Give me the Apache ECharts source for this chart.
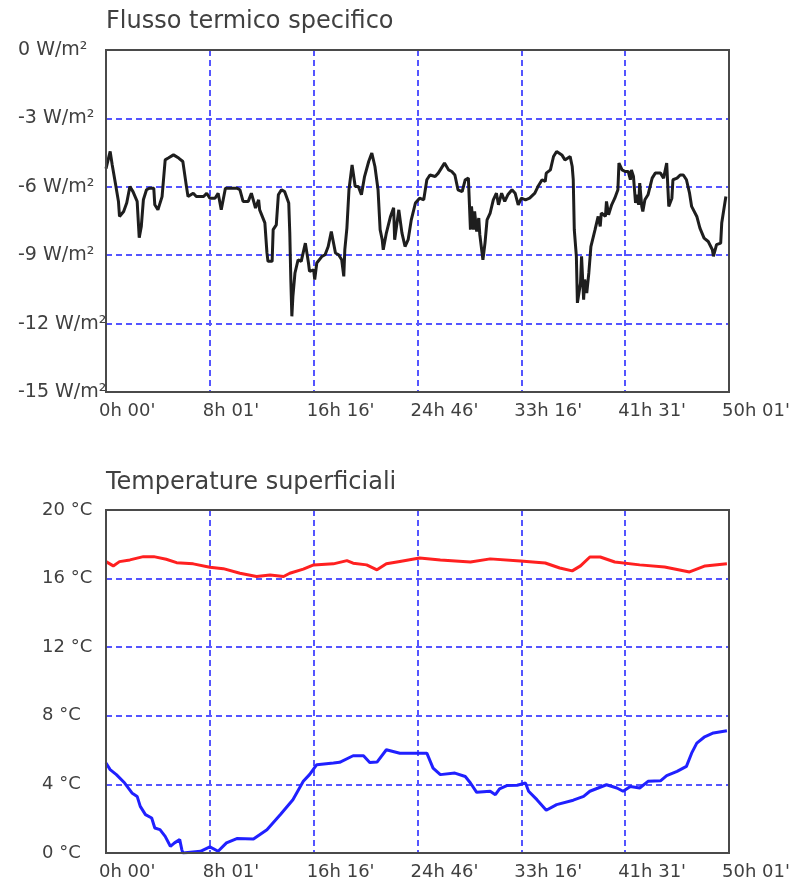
<!DOCTYPE html>
<html>
<head>
<meta charset="utf-8">
<script src="https://cdn.jsdelivr.net/npm/echarts@6/dist/echarts.min.js"></script>
<style>
  html, body { margin: 0; padding: 0; background: #ffffff; }
  #chart { width: 799px; height: 882px; }
</style>
</head>
<body>
<div id="chart"></div>
<script>
// Time axis: six equal divisions, labelled with elapsed time
const timeLabels = ["0h 00'", "8h 01'", "16h 16'", "24h 46'", "33h 16'", "41h 31'", "50h 01'"];

// Specific heat flux (W/m²), position in time divisions
const fluxPos = [0.00,0.04,0.06,0.09,0.12,0.13,0.17,0.20,0.23,0.26,0.30,0.32,0.34,0.36,0.39,0.42,0.46,0.47,0.50,0.54,
  0.57,0.60,0.65,0.70,0.74,0.77,0.79,0.84,0.87,0.94,0.97,1.00,1.05,1.08,1.11,1.15,1.19,1.26,1.29,1.32,
  1.37,1.40,1.44,1.47,1.48,1.53,1.55,1.56,1.60,1.61,1.64,1.66,1.69,1.72,1.76,1.77,1.78,1.79,1.80,1.82,
  1.85,1.88,1.92,1.95,1.96,2.00,2.01,2.03,2.08,2.11,2.14,2.17,2.21,2.24,2.27,2.29,2.30,2.32,2.34,2.37,
  2.40,2.43,2.46,2.49,2.53,2.56,2.59,2.62,2.64,2.66,2.67,2.70,2.74,2.77,2.78,2.82,2.85,2.88,2.91,2.94,
  2.98,3.02,3.06,3.09,3.12,3.17,3.20,3.23,3.26,3.30,3.33,3.36,3.39,3.43,3.46,3.49,3.51,3.52,3.54,3.55,
  3.57,3.59,3.60,3.63,3.65,3.67,3.70,3.73,3.76,3.78,3.81,3.84,3.87,3.91,3.94,3.97,4.00,4.04,4.08,4.13,
  4.16,4.20,4.23,4.24,4.28,4.31,4.34,4.39,4.42,4.47,4.49,4.50,4.51,4.53,4.54,4.57,4.58,4.60,4.61,4.63,
  4.65,4.67,4.71,4.74,4.76,4.77,4.81,4.82,4.84,4.87,4.90,4.93,4.94,4.97,5.00,5.03,5.05,5.06,5.08,5.10,
  5.11,5.13,5.14,5.16,5.17,5.19,5.22,5.26,5.29,5.34,5.37,5.40,5.42,5.45,5.46,5.50,5.53,5.56,5.59,5.62,
  5.64,5.69,5.72,5.76,5.80,5.84,5.85,5.88,5.92,5.93,5.96,5.97];
const fluxVal = [-5.20,-4.45,-5.04,-5.83,-6.64,-7.30,-7.08,-6.70,-5.99,-6.21,-6.64,-8.23,-7.74,-6.57,-6.13,-6.06,-6.06,-6.79,-7.01,-6.43,
  -4.82,-4.74,-4.60,-4.74,-4.89,-5.84,-6.43,-6.28,-6.43,-6.43,-6.28,-6.50,-6.50,-6.28,-7.01,-6.06,-6.06,-6.06,-6.13,-6.64,
  -6.64,-6.28,-6.93,-6.57,-7.01,-7.58,-8.89,-9.27,-9.27,-7.88,-7.67,-6.35,-6.13,-6.21,-6.71,-8.02,-10.07,-11.68,-10.81,-9.78,
  -9.20,-9.27,-8.47,-9.34,-9.71,-9.64,-10.07,-9.34,-9.05,-8.98,-8.62,-7.96,-8.90,-8.98,-9.20,-9.93,-8.76,-7.81,-6.13,-5.04,
  -5.99,-5.99,-6.35,-5.55,-4.89,-4.52,-5.11,-6.13,-7.88,-8.32,-8.76,-8.03,-7.30,-6.92,-8.32,-7.01,-8.02,-8.62,-8.32,-7.45,
  -6.71,-6.50,-6.57,-5.69,-5.48,-5.55,-5.40,-5.18,-4.96,-5.26,-5.33,-5.48,-6.13,-6.21,-5.69,-5.62,-7.88,-6.86,-7.88,-7.08,
  -7.96,-7.37,-8.10,-9.20,-8.47,-7.45,-7.15,-6.57,-6.28,-6.79,-6.28,-6.64,-6.35,-6.13,-6.28,-6.79,-6.50,-6.57,-6.50,-6.28,
  -5.99,-5.69,-5.77,-5.40,-5.26,-4.67,-4.45,-4.60,-4.82,-4.67,-5.11,-5.69,-7.88,-9.05,-11.09,-10.22,-9.05,-10.95,-10.07,-10.66,
  -9.78,-8.62,-7.88,-7.30,-7.74,-7.15,-7.30,-6.64,-7.23,-6.79,-6.50,-6.13,-4.96,-5.26,-5.33,-5.33,-5.69,-5.26,-5.55,-6.71,
  -6.35,-6.79,-5.84,-6.86,-7.08,-6.57,-6.35,-5.62,-5.40,-5.40,-5.62,-4.96,-6.86,-6.50,-5.69,-5.62,-5.48,-5.48,-5.69,-6.28,
  -6.86,-7.30,-7.81,-8.25,-8.40,-8.76,-9.05,-8.54,-8.47,-7.59,-6.71,-6.43];

// Inner surface temperature (°C)
const innerPos = [0.00,0.07,0.13,0.23,0.36,0.46,0.58,0.68,0.84,1.00,1.13,1.29,1.45,1.58,1.71,1.77,1.90,2.00,2.19,2.32,
  2.38,2.51,2.61,2.70,2.83,3.02,3.22,3.51,3.70,3.99,4.23,4.37,4.49,4.57,4.66,4.76,4.90,5.14,5.38,5.62,5.77,5.98];
const innerTemp = [16.99,16.74,16.99,17.09,17.28,17.28,17.13,16.93,16.86,16.66,16.58,16.31,16.12,16.21,16.12,16.31,16.55,16.80,16.86,17.05,
  16.90,16.80,16.51,16.86,17.00,17.20,17.09,16.97,17.15,17.03,16.91,16.62,16.45,16.74,17.26,17.26,16.97,16.80,16.68,16.39,16.74,16.86];

// Outer surface temperature (°C)
const outerPos = [0.00,0.04,0.10,0.18,0.25,0.30,0.33,0.38,0.44,0.47,0.52,0.57,0.62,0.66,0.71,0.73,0.74,0.91,1.00,1.08,
  1.16,1.26,1.42,1.55,1.68,1.80,1.90,1.96,2.03,2.19,2.25,2.38,2.48,2.54,2.61,2.70,2.83,3.09,3.15,3.22,
  3.36,3.46,3.51,3.57,3.70,3.75,3.79,3.86,3.96,4.04,4.07,4.15,4.24,4.34,4.50,4.60,4.66,4.82,4.92,4.98,
  5.05,5.14,5.22,5.34,5.40,5.50,5.59,5.64,5.69,5.76,5.85,5.98];
const outerTemp = [5.25,4.86,4.57,4.08,3.50,3.30,2.72,2.24,2.04,1.46,1.36,0.97,0.39,0.59,0.78,0.20,0.00,0.10,0.36,0.10,
  0.59,0.84,0.82,1.36,2.24,3.11,4.18,4.57,5.15,5.25,5.29,5.67,5.67,5.28,5.30,6.02,5.82,5.82,4.95,4.57,
  4.66,4.46,4.08,3.54,3.60,3.40,3.74,3.93,3.95,4.08,3.60,3.11,2.49,2.82,3.08,3.30,3.60,3.98,3.79,3.60,
  3.88,3.79,4.18,4.21,4.51,4.76,5.05,5.82,6.41,6.75,7.00,7.13];

const zip = (xs, ys) => xs.map((x, i) => [x, ys[i]]);

const FONT = 'DejaVu Sans';
const TEXT = '#404040';
const GRID_LINE = { color: '#5555ff', width: 2, type: [6, 4] };

function timeAxis(gridIndex) {
  return {
    gridIndex, type: 'value', min: 0, max: 6, interval: 1,
    axisLine: { show: false }, axisTick: { show: false },
    splitLine: { show: true, showMinLine: false, showMaxLine: false, lineStyle: GRID_LINE },
    axisLabel: {
      formatter: v => timeLabels[Math.round(v)],
      align: 'left', padding: [0, 0, 0, -7], margin: 10,
      fontFamily: FONT, fontSize: 18, color: TEXT
    }
  };
}

function valueAxis(gridIndex, min, max, interval, unit, margin, size) {
  return {
    gridIndex, type: 'value', min, max, interval,
    axisLine: { show: false }, axisTick: { show: false },
    splitLine: { show: true, showMinLine: false, showMaxLine: false, lineStyle: GRID_LINE },
    axisLabel: {
      formatter: v => v + unit,
      align: 'left', margin,
      fontFamily: FONT, fontSize: size, color: TEXT
    }
  };
}

const titleStyle = { fontFamily: FONT, fontSize: 24, fontWeight: 'normal', color: TEXT };

const chart = echarts.init(document.getElementById('chart'), null, { renderer: 'canvas' });
chart.setOption({
  animation: false,
  backgroundColor: '#ffffff',
  title: [
    { text: 'Flusso termico specifico', left: 106, top: 10, padding: 0, textStyle: titleStyle },
    { text: 'Temperature superficiali', left: 106, top: 471, padding: 0, textStyle: titleStyle }
  ],
  grid: [
    { left: 106, top: 50, width: 623, height: 342, show: true, borderColor: '#4a4a4a', borderWidth: 2, z: 5 },
    { left: 106, top: 510, width: 623, height: 343, show: true, borderColor: '#4a4a4a', borderWidth: 2, z: 5 }
  ],
  xAxis: [timeAxis(0), timeAxis(1)],
  yAxis: [
    valueAxis(0, -15, 0, 3, ' W/m²', 88, 19),
    valueAxis(1, 0, 20, 4, ' °C', 64, 18)
  ],
  series: [
    {
      name: 'Flusso termico specifico', type: 'line', xAxisIndex: 0, yAxisIndex: 0,
      data: zip(fluxPos, fluxVal), showSymbol: false, symbol: 'none',
      lineStyle: { color: '#1e1e1e', width: 3 }
    },
    {
      name: 'Superficie interna', type: 'line', xAxisIndex: 1, yAxisIndex: 1,
      data: zip(innerPos, innerTemp), showSymbol: false, symbol: 'none',
      lineStyle: { color: '#ff2020', width: 3 }
    },
    {
      name: 'Superficie esterna', type: 'line', xAxisIndex: 1, yAxisIndex: 1,
      data: zip(outerPos, outerTemp), showSymbol: false, symbol: 'none',
      lineStyle: { color: '#2020ff', width: 3 }
    }
  ]
});
</script>
</body>
</html>
